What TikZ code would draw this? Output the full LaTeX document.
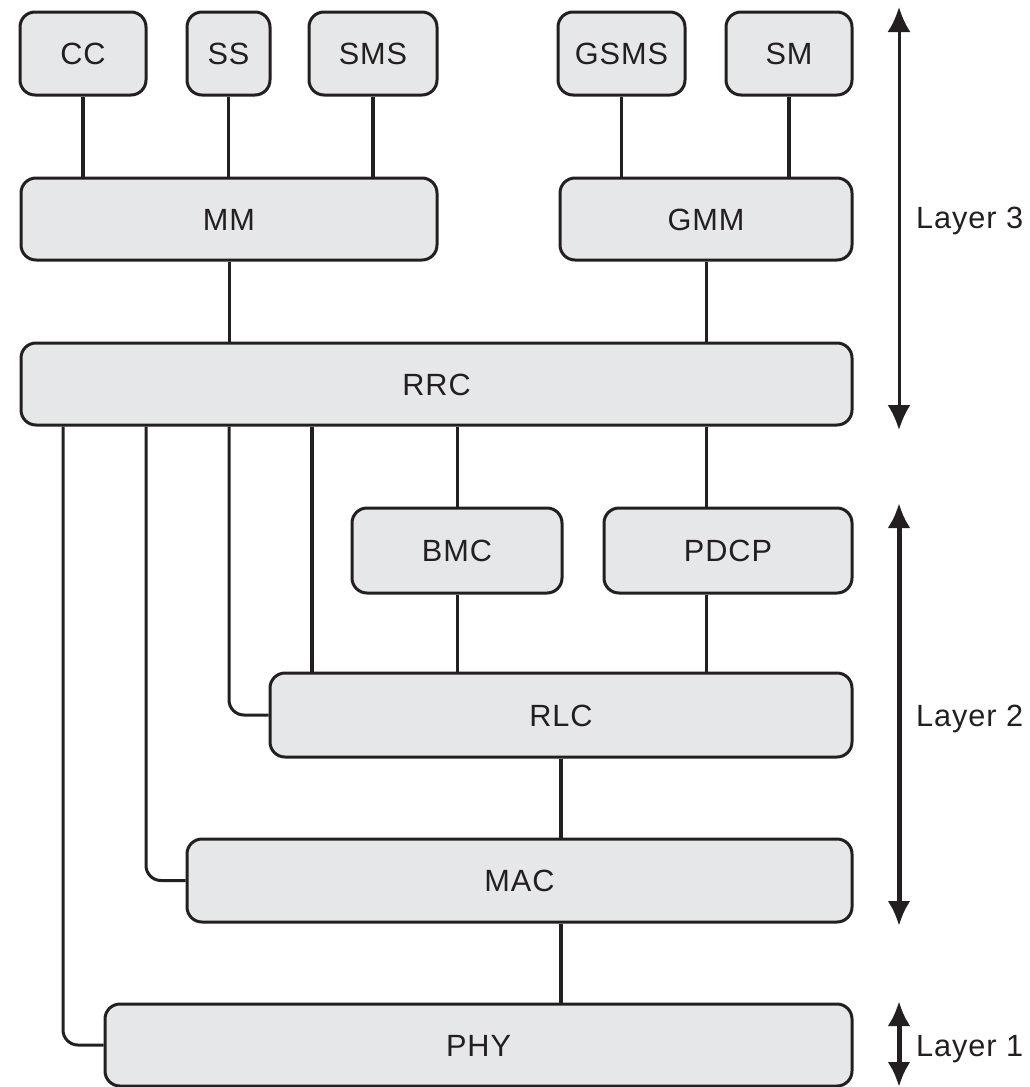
\documentclass[tikz,border=0pt]{standalone}
\usepackage{fontspec}
\setmainfont[LetterSpace=3]{Liberation Sans}
\usetikzlibrary{arrows.meta,backgrounds}
\definecolor{boxfill}{HTML}{E6E7E8}
\definecolor{ink}{HTML}{231F20}
\tikzset{ltip/.tip={Latex[length=25pt,width=23pt]}}
\begin{document}
\begin{tikzpicture}[x=1pt,y=-1pt,
  box/.style={draw=ink, fill=boxfill, line width=3pt, rounded corners=15pt,
    inner sep=0pt, text=ink, font=\fontsize{30.7}{36}\selectfont,
    text height=22pt, text depth=0pt},
  lbl/.style={inner sep=0pt, text=ink, font=\fontsize{30.7}{36}\selectfont,
    text height=22pt, text depth=0pt, anchor=west},
  thinl/.style={draw=ink, line width=3pt},
  thickl/.style={draw=ink, line width=4.8pt},
  elbow/.style={draw=ink, line width=3pt, rounded corners=15pt}]
\useasboundingbox (0,0) rectangle (1030,1087);

% top row
\node[box, minimum width=126pt, minimum height=83pt] (cc)   at (83,53.5)   {CC};
\node[box, minimum width=83pt,  minimum height=83pt] (ss)   at (228.5,53.5) {SS};
\node[box, minimum width=128pt, minimum height=83pt] (sms)  at (373,53.5)  {SMS};
\node[box, minimum width=127pt, minimum height=83pt] (gsms) at (621.5,53.5) {GSMS};
\node[box, minimum width=126pt, minimum height=83pt] (sm)   at (789,53.5)  {SM};
% second row
\node[box, minimum width=416pt, minimum height=82pt] (mm)   at (229,219)   {MM};
\node[box, minimum width=292pt, minimum height=82pt] (gmm)  at (706,219)   {GMM};
% RRC
\node[box, minimum width=831pt, minimum height=82pt] (rrc)  at (436.5,384) {RRC};
% BMC / PDCP
\node[box, minimum width=210pt, minimum height=85pt] (bmc)  at (457,550.5) {BMC};
\node[box, minimum width=248pt, minimum height=85pt] (pdcp) at (728,550.5) {PDCP};
% RLC / MAC / PHY
\node[box, minimum width=582pt, minimum height=84pt] (rlc)  at (561,715)   {RLC};
\node[box, minimum width=665pt, minimum height=83pt] (mac)  at (519.5,880.5) {MAC};
\node[box, minimum width=747pt, minimum height=82pt] (phy)  at (478.5,1045) {PHY};

% column coordinates for the side links
\coordinate (xphy) at (63,0);
\coordinate (xmac) at (146,0);
\coordinate (xrlc) at (229,0);
\coordinate (xrlc2) at (312,0);

\begin{pgfonlayer}{background}
  \draw[thickl] (cc.south) -- (cc.south |- mm.north);
  \draw[thinl]  (ss.south) -- (ss.south |- mm.north);
  \draw[thickl] (sms.south) -- (sms.south |- mm.north);
  \draw[thinl]  (gsms.south) -- (gsms.south |- gmm.north);
  \draw[thickl] (sm.south) -- (sm.south |- gmm.north);
  \draw[thinl]  (mm.south) -- (mm.south |- rrc.north);
  \draw[thinl]  (gmm.south) -- (gmm.south |- rrc.north);
  % RRC down
  \draw[elbow]  (xphy |- rrc.south) |- (phy.west);
  \draw[elbow]  (xmac |- rrc.south) |- (mac.west);
  \draw[elbow]  (xrlc |- rrc.south) |- (rlc.west);
  \draw[thickl] (xrlc2 |- rrc.south) -- (xrlc2 |- rlc.north);
  \draw[thinl]  (bmc.north |- rrc.south) -- (bmc.north);
  \draw[thinl]  (gmm.south |- rrc.south) -- (gmm.south |- pdcp.north);
  \draw[thinl]  (bmc.south) -- (bmc.south |- rlc.north);
  \draw[thinl]  (gmm.south |- pdcp.south) -- (gmm.south |- rlc.north);
  \draw[thickl] (rlc.south) -- (rlc.south |- mac.north);
  \draw[thickl] (rlc.south |- mac.south) -- (rlc.south |- phy.north);
\end{pgfonlayer}

% layer arrows
\coordinate (a3t) at (899,7);
\coordinate (a3b) at (899,430);
\coordinate (a2t) at (899,503);
\coordinate (a2b) at (899,926);
\coordinate (a1t) at (899,1001);
\coordinate (a1b) at (899,1087);
\draw[thinl, ltip-ltip] (a3t) -- (a3b);
\draw[draw=ink, line width=5pt, ltip-ltip] (a2t) -- (a2b);
\draw[draw=ink, line width=5pt, ltip-ltip] (a1t) -- (a1b);

\node[lbl] (l3) at (916,217) {Layer 3};
\node[lbl] (l2) at (916,715) {Layer 2};
\node[lbl] (l1) at (916,1045) {Layer 1};
\end{tikzpicture}
\end{document}
